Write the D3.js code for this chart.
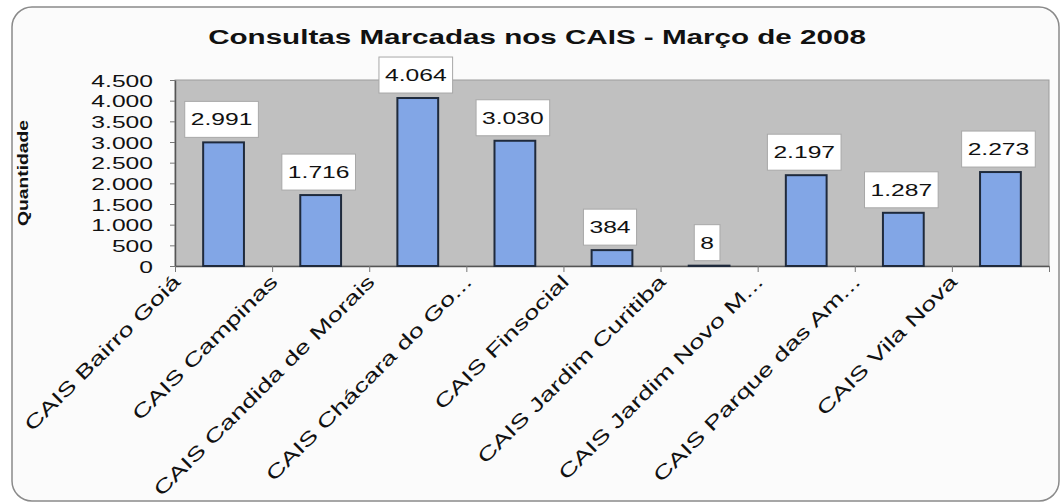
<!DOCTYPE html>
<html>
<head>
<meta charset="utf-8">
<script src="https://cdn.jsdelivr.net/npm/d3@7"></script>
<style>
body { margin: 0; background: #ffffff; }
text { font-family: "Liberation Sans", Arial, sans-serif; }
</style>
</head>
<body>
<svg id="chart" width="1061" height="504"></svg>
<script>
// data
var categories = ["CAIS Bairro Goiá", "CAIS Campinas", "CAIS Candida de Morais",
  "CAIS Chácara do Go...", "CAIS Finsocial", "CAIS Jardim Curitiba",
  "CAIS Jardim Novo M...", "CAIS Parque das Am...", "CAIS Vila Nova"];
var values = [2991, 1716, 4064, 3030, 384, 8, 2197, 1287, 2273];
var yTicks = [0, 500, 1000, 1500, 2000, 2500, 3000, 3500, 4000, 4500];
var title = "Consultas Marcadas nos CAIS - Março de 2008";
var yTitle = "Quantidade";

// the picture is stretched sideways, so text gets a horizontal scale
var sx = 1.45;

var ptBR = d3.formatLocale({decimal: ",", thousands: ".", grouping: [3], currency: ["R$", ""]});
var fmt = ptBR.format(",d");

var svg = d3.select("#chart");

var plotL = 175, plotR = 1049, plotT = 80, plotB = 266;

// outer frame
svg.append("rect")
  .attr("x", 12).attr("y", 7)
  .attr("width", 1047).attr("height", 494)
  .attr("rx", 20).attr("ry", 20)
  .attr("fill", "#fbfbfb")
  .attr("stroke", "#8a8a8a")
  .attr("stroke-width", 1.5);

var x = d3.scaleBand()
  .domain(categories)
  .range([plotL, plotR])
  .paddingInner(0.58)
  .paddingOuter(0.29);

var xEdges = d3.scaleLinear().domain([0, categories.length]).range([plotL, plotR]);

var y = d3.scaleLinear().domain([0, 4500]).range([plotB, plotT]);

// plot area
svg.append("rect")
  .attr("x", plotL).attr("y", plotT)
  .attr("width", plotR - plotL).attr("height", plotB - plotT)
  .attr("fill", "#c0c0c0")
  .attr("stroke", "#9c9c9c")
  .attr("stroke-width", 1);

// title
svg.append("text")
  .attr("transform", "translate(537,44) scale(1.48,1)")
  .attr("text-anchor", "middle")
  .attr("font-size", "20px")
  .attr("font-weight", "bold")
  .attr("fill", "#111")
  .text(title);

// y title
svg.append("text")
  .attr("transform", "translate(28,173) rotate(-90) scale(1.38,1)")
  .attr("text-anchor", "middle")
  .attr("font-size", "14px")
  .attr("font-weight", "bold")
  .attr("fill", "#111")
  .text(yTitle);

// y axis
var yAxis = svg.append("g")
  .attr("transform", "translate(" + plotL + ",0)")
  .call(d3.axisLeft(y).tickValues(yTicks).tickFormat(fmt).tickSize(5).tickSizeOuter(0));
yAxis.select(".domain").attr("stroke", "#555").attr("stroke-width", 1.5);
yAxis.selectAll(".tick line").attr("stroke", "#777");
yAxis.selectAll(".tick text")
  .attr("x", null).attr("dy", null)
  .attr("transform", "translate(-22,6) scale(" + sx + ",1)")
  .attr("text-anchor", "end")
  .attr("font-size", "17px")
  .attr("font-family", "Liberation Sans, Arial, sans-serif")
  .attr("fill", "#111");

// x axis ticks between categories
var xAxis = svg.append("g")
  .attr("transform", "translate(0," + plotB + ")")
  .call(d3.axisBottom(xEdges).ticks(categories.length).tickFormat("").tickSize(6).tickSizeOuter(0));
xAxis.select(".domain").attr("stroke", "#555").attr("stroke-width", 1.5);
xAxis.selectAll(".tick line").attr("stroke", "#777");

// bars
svg.append("g").selectAll("rect")
  .data(values)
  .enter()
  .append("rect")
  .attr("x", function(d, i) { return x(categories[i]); })
  .attr("y", function(d) { return y(d); })
  .attr("width", x.bandwidth())
  .attr("height", function(d) { return plotB - y(d); })
  .attr("fill", "#82a6e6")
  .attr("stroke", "#1f2a3c")
  .attr("stroke-width", 2);

// value labels in white boxes
var lab = svg.append("g").selectAll("g")
  .data(values)
  .enter()
  .append("g")
  .attr("transform", function(d, i) {
    return "translate(" + (x(categories[i]) + x.bandwidth() / 2 - 2) + "," + (y(d) - 23) + ")";
  });
lab.append("rect").attr("class", "box");
lab.append("text")
  .attr("transform", "scale(" + sx + ",1)")
  .attr("text-anchor", "middle")
  .attr("dy", "0.36em")
  .attr("font-size", "17px")
  .attr("fill", "#111")
  .text(function(d) { return fmt(d); });
lab.each(function() {
  var g = d3.select(this);
  var w = g.select("text").node().getComputedTextLength() * sx + 12;
  g.select("rect")
    .attr("x", -w / 2).attr("y", -18)
    .attr("width", w).attr("height", 36)
    .attr("fill", "#ffffff")
    .attr("stroke", "#a8a8a8")
    .attr("stroke-width", 1);
});

// rotated category labels
svg.append("g").selectAll("text")
  .data(categories)
  .enter()
  .append("text")
  .attr("transform", function(d) {
    return "translate(" + (x(d) + x.bandwidth() / 2 - 42) + ",283) rotate(-45) scale(" + sx + ",1)";
  })
  .attr("text-anchor", "end")
  .attr("font-size", "19px")
  .attr("fill", "#111")
  .text(function(d) { return d; });
</script>
</body>
</html>
